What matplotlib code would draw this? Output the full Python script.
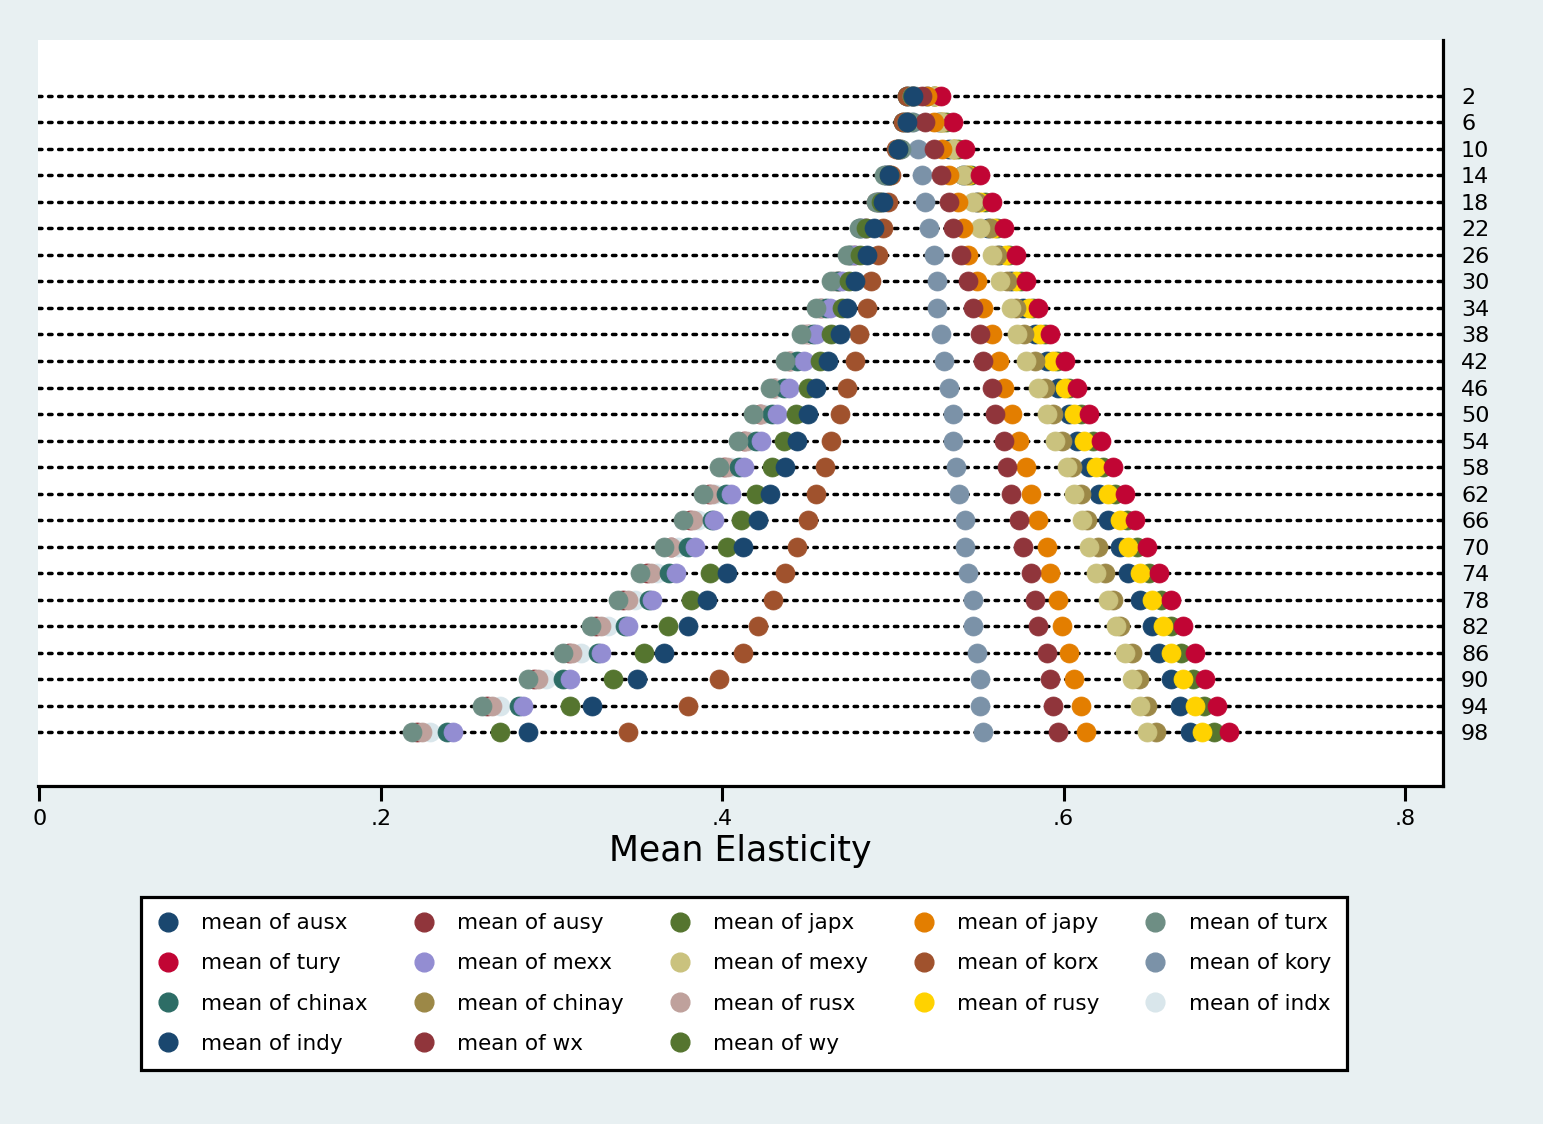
import matplotlib
matplotlib.use('Agg')
import matplotlib.pyplot as plt
from matplotlib.lines import Line2D

plt.rcParams['font.family'] = ['DejaVu Sans']

# ---------------- data ----------------
percentiles = [2, 6, 10, 14, 18, 22, 26, 30, 34, 38, 42, 46, 50,
               54, 58, 62, 66, 70, 74, 78, 82, 86, 90, 94, 98]
y_tick_labels = [str(p) for p in percentiles]
x_ticks = [0, 0.2, 0.4, 0.6, 0.8]
x_tick_labels = ['0', '.2', '.4', '.6', '.8']

series_names = ['ausx', 'ausy', 'japx', 'japy', 'turx', 'tury', 'mexx', 'mexy',
                'korx', 'kory', 'chinax', 'chinay', 'rusx', 'rusy', 'indx',
                'indy', 'wx', 'wy']

ausx = [.512, .508, .503, .498, .494, .489, .485, .478, .473, .469, .462, .455, .450,
        .444, .437, .428, .421, .412, .403, .391, .380, .366, .350, .324, .286]
ausy = [.517, .519, .524, .528, .533, .535, .540, .544, .547, .551, .553, .558, .560,
        .565, .567, .569, .574, .576, .581, .583, .585, .590, .592, .594, .597]
japx = [.511, .508, .503, .498, .493, .484, .481, .474, .470, .464, .457, .450, .443,
        .436, .429, .420, .411, .403, .393, .382, .368, .354, .336, .311, .270]
japy = [.520, .524, .529, .533, .538, .541, .544, .549, .553, .558, .562, .565, .570,
        .574, .578, .581, .585, .590, .592, .597, .599, .603, .606, .610, .613]
turx = [.513, .511, .505, .495, .490, .480, .473, .464, .455, .446, .437, .428, .418,
        .409, .398, .389, .377, .366, .352, .339, .323, .307, .286, .259, .218]
tury = [.528, .535, .542, .551, .558, .565, .572, .578, .585, .592, .601, .608, .615,
        .622, .629, .636, .642, .649, .656, .663, .670, .677, .683, .690, .697]
mexx = [.511, .508, .503, .496, .492, .483, .478, .470, .463, .455, .448, .439, .432,
        .423, .413, .405, .395, .384, .373, .359, .345, .329, .311, .283, .242]
mexy = [.524, .528, .535, .541, .547, .551, .558, .563, .569, .573, .578, .585, .590,
        .595, .602, .606, .611, .615, .619, .626, .631, .636, .640, .645, .649]
korx = [.508, .506, .502, .499, .497, .494, .491, .487, .485, .480, .478, .473, .469,
        .464, .460, .455, .450, .444, .437, .430, .421, .412, .398, .380, .345]
kory = [.511, .512, .515, .517, .519, .521, .524, .526, .526, .528, .530, .533, .535,
        .535, .537, .539, .542, .542, .544, .547, .547, .549, .551, .551, .553]
chinax = [.508, .506, .503, .496, .491, .481, .475, .468, .461, .453, .444, .436, .429,
          .420, .410, .402, .394, .380, .369, .357, .343, .327, .307, .281, .239]
chinay = [.524, .529, .536, .543, .549, .557, .561, .567, .572, .577, .583, .589, .594,
          .599, .605, .610, .614, .620, .624, .629, .633, .640, .644, .649, .654]
rusx = [.508, .507, .503, .496, .490, .481, .474, .466, .457, .448, .439, .430, .423,
        .414, .403, .394, .383, .370, .358, .345, .329, .312, .292, .265, .224]
rusy = [.525, .529, .536, .544, .551, .559, .566, .572, .580, .586, .594, .601, .606,
        .612, .619, .626, .633, .638, .645, .652, .658, .663, .670, .677, .681]
indx = [.508, .507, .503, .496, .491, .482, .475, .466, .458, .449, .441, .432, .425,
        .416, .406, .396, .386, .374, .362, .349, .333, .317, .297, .270, .229]
indy = [.520, .527, .533, .541, .549, .556, .562, .569, .576, .583, .590, .597, .603,
        .608, .615, .621, .626, .633, .638, .645, .652, .656, .663, .668, .674]
wx = [.512, .509, .504, .498, .492, .484, .477, .468, .458, .450, .440, .431, .422,
      .413, .401, .392, .381, .370, .356, .342, .326, .310, .290, .262, .221]
wy = [.524, .531, .538, .546, .554, .561, .568, .575, .582, .589, .596, .603, .610,
      .617, .623, .630, .637, .643, .650, .657, .663, .669, .676, .682, .688]

values = {'ausx': ausx, 'ausy': ausy, 'japx': japx, 'japy': japy, 'turx': turx,
          'tury': tury, 'mexx': mexx, 'mexy': mexy, 'korx': korx, 'kory': kory,
          'chinax': chinax, 'chinay': chinay, 'rusx': rusx, 'rusy': rusy,
          'indx': indx, 'indy': indy, 'wx': wx, 'wy': wy}

# Stata s2color palette (cycles after 15)
palette = ['#1a476f', '#90353b', '#55752f', '#e37e00', '#6e8e84', '#c10534',
           '#938dd2', '#cac27e', '#a0522d', '#7b92a8', '#2d6d66', '#9c8847',
           '#bfa19c', '#ffd200', '#d9e6eb']
colors = {n: palette[i % len(palette)] for i, n in enumerate(series_names)}

# ---------------- figure ----------------
W, H = 1543, 1124
fig = plt.figure(figsize=(W / 100, H / 100), dpi=100, facecolor='#e8f0f2')
ax = fig.add_axes([38.3 / W, 1 - 786 / H, (1443 - 38.3) / W, (786 - 40) / H])
ax.set_facecolor('white')

rows = list(range(len(percentiles)))
for r in rows:
    ax.axhline(r, color='black', lw=2.5, linestyle=(0, (1.0, 1.9)),
               dash_capstyle='round', zorder=1)

for name in reversed(series_names):
    ax.plot(values[name], rows, 'o', ms=13.7, color=colors[name],
            mec=colors[name], mew=0.5, zorder=2, linestyle='none',
            label='mean of ' + name)

ax.set_xlim(-0.0007, 0.8223)
ax.set_ylim(len(rows) - 1 + 2.02, -2.10)

for s in ['top', 'left']:
    ax.spines[s].set_visible(False)
for s in ['bottom', 'right']:
    ax.spines[s].set_linewidth(2.3)
    ax.spines[s].set_color('black')

ax.set_xticks(x_ticks)
ax.set_xticklabels(x_tick_labels)
ax.tick_params(axis='x', length=10.5, width=2.2, pad=6, labelsize=16,
               direction='out', colors='black')

ax.yaxis.tick_right()
ax.set_yticks(rows)
ax.set_yticklabels(y_tick_labels)
ax.tick_params(axis='y', length=0, pad=13, labelsize=16)

fig.text(740.5 / W, 1 - 851 / H, 'Mean Elasticity', fontsize=25,
         ha='center', va='center')

# legend: row-major order as in reference, matplotlib fills column-major
ncol = 5
nrow = 4
order = []
for c in range(ncol):
    for r in range(nrow):
        i = r * ncol + c
        if i < len(series_names):
            order.append(series_names[i])
leg_handles = [Line2D([], [], marker='o', linestyle='none', ms=13.5,
                      color=colors[n], mec=colors[n]) for n in order]
leg_labels = ['mean of ' + n for n in order]
leg = fig.legend(leg_handles, leg_labels, ncol=ncol, loc='center',
                 bbox_to_anchor=(141 / W, 1 - 1072 / H, 1206 / W, 177 / H),
                 mode='expand', fontsize=15.5, frameon=True, fancybox=False,
                 edgecolor='black', facecolor='white', framealpha=1,
                 borderpad=0.75, labelspacing=0.93, handlelength=1.0,
                 handletextpad=1.05, columnspacing=1.0, borderaxespad=0)
leg.get_frame().set_linewidth(2.3)

fig.savefig('out.png', dpi=100, facecolor=fig.get_facecolor())
